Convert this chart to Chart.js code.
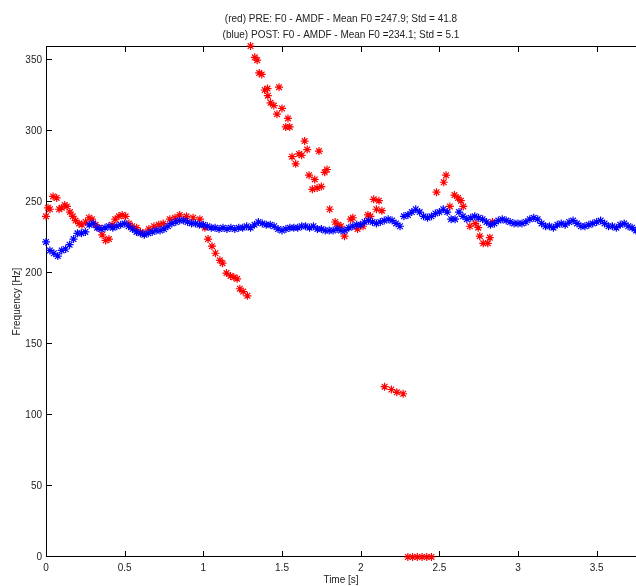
<!DOCTYPE html>
<html>
<head>
<meta charset="utf-8">
<script src="https://cdn.jsdelivr.net/npm/chart.js@4.4.1/dist/chart.umd.min.js"></script>
<style>
  html, body { margin: 0; padding: 0; background: #fff; }
</style>
</head>
<body>
<canvas id="f0chart" width="636" height="586"></canvas>
<script>
// title lines
const titleLines = [
  "(red) PRE: F0 - AMDF - Mean F0 =247.9; Std = 41.8",
  "(blue) POST: F0 - AMDF - Mean F0 =234.1; Std = 5.1"
]

// blue (POST) - one value every 25 ms from 0 s
const blueStep = 0.025
const blueF0 = [
  222, 216, 214, 212, 216, 217, 220, 224, 228, 228,
  229, 234, 235, 232, 231, 232, 233, 232, 233, 234,
  235, 233, 231, 229, 228, 227, 228, 229, 230, 230,
  231, 233, 235, 236, 237, 237, 236, 235, 235, 234,
  234, 233, 232, 232, 231, 232, 231, 232, 231, 232,
  232, 233, 232, 234, 236, 235, 234, 234, 233, 231,
  230, 231, 232, 232, 232, 233, 233, 232, 233, 231,
  231, 230, 230, 230, 231, 230, 230, 232, 233, 234,
  234, 236, 237, 236, 235, 236, 237, 238, 237, 235,
  233, 240, 241, 243, 245, 243, 240, 239, 240, 242,
  243, 245, 243, 238, 238, 243, 240, 238, 239, 240,
  239, 238, 236, 234, 235, 237, 238, 237, 236, 235,
  235, 235, 236, 238, 239, 238, 235, 233, 233, 232,
  234, 235, 234, 236, 237, 235, 233, 233, 234, 235,
  236, 237, 235, 233, 233, 232, 234, 235, 233, 232,
  230
]

// red (PRE) - irregular frames
const redTime = [
  0.00, 0.013, 0.025, 0.045, 0.068, 0.083, 0.10, 0.119, 0.133, 0.152,
  0.17, 0.188, 0.21, 0.228, 0.252, 0.273, 0.292, 0.315, 0.336, 0.357,
  0.379, 0.40, 0.42, 0.44, 0.463, 0.484, 0.506, 0.527, 0.548, 0.576,
  0.60, 0.622, 0.654, 0.686, 0.717, 0.745, 0.787, 0.82, 0.85, 0.893,
  0.935, 0.978, 1.01, 1.03, 1.055, 1.077, 1.105, 1.122, 1.147, 1.173,
  1.194, 1.215, 1.232, 1.253, 1.28, 1.30, 1.327, 1.342, 1.355, 1.371,
  1.39, 1.408, 1.41, 1.427, 1.448, 1.468, 1.481, 1.50, 1.524, 1.538,
  1.549, 1.564, 1.587, 1.608, 1.625, 1.644, 1.66, 1.672, 1.693, 1.708,
  1.723, 1.735, 1.75, 1.771, 1.786, 1.803, 1.838, 1.856, 1.875, 1.897,
  1.937, 1.95, 1.98, 2.015, 2.046, 2.062, 2.083, 2.10, 2.116, 2.135,
  2.152, 2.195, 2.23, 2.27, 2.30, 2.33, 2.36, 2.39, 2.42, 2.45,
  2.482, 2.528, 2.543, 2.567, 2.596, 2.619, 2.637, 2.652, 2.694, 2.728,
  2.747, 2.757, 2.779, 2.808, 2.821, 2.838
]
const redF0 = [
  240, 246, 245, 254, 253, 245, 246, 248, 247, 243,
  240, 237, 235, 234, 236, 239, 238, 234, 232, 227,
  223, 224, 234, 238, 240, 241, 240, 235, 233, 232,
  229, 228, 231, 233, 234, 235, 238, 239, 241, 240,
  239, 238, 232, 224, 219, 214, 209, 207, 200, 198,
  197, 196, 189, 187, 184, 360, 352, 350, 341, 340,
  329, 330, 325, 320, 318, 312, 331, 316, 303, 309,
  303, 282, 277, 284, 283, 293, 287, 269, 259, 266,
  260, 286, 261, 271, 273, 245, 236, 234, 233, 226,
  238, 239, 231, 233, 241, 240, 252, 245, 251, 244,
  120, 118, 116, 115, 0, 0, 0, 0, 0, 0,
  257, 264, 269, 247, 255, 253, 251, 247, 233, 235,
  232, 226, 221, 221, 225, 236
]

const xTicks = [0, 0.5, 1, 1.5, 2, 2.5, 3, 3.5]
const yTicks = [0, 50, 100, 150, 200, 250, 300, 350]
const xMax = 3.75
const yMax = 360

const blueData = blueF0.map((v, i) => ({ x: i * blueStep, y: v }))
const redData = redTime.map((t, i) => ({ x: t, y: redF0[i] }))

const fontFamily = "'Liberation Sans', Arial, sans-serif"

// matlab-like box with inward ticks
const matlabAxes = {
  id: "matlabAxes",
  beforeDatasetsDraw(chart) {
    const { ctx, chartArea: a, scales } = chart
    ctx.save()
    ctx.strokeStyle = "#000"
    ctx.lineWidth = 1
    ctx.beginPath()
    ctx.moveTo(a.left + 0.5, a.top)
    ctx.lineTo(a.left + 0.5, a.bottom)
    ctx.moveTo(a.left, a.top + 0.5)
    ctx.lineTo(a.right, a.top + 0.5)
    ctx.moveTo(a.left, a.bottom - 0.5)
    ctx.lineTo(a.right, a.bottom - 0.5)
    scales.x.ticks.forEach((t) => {
      const px = Math.round(scales.x.getPixelForValue(t.value)) + 0.5
      ctx.moveTo(px, a.bottom)
      ctx.lineTo(px, a.bottom - 6)
      ctx.moveTo(px, a.top)
      ctx.lineTo(px, a.top + 6)
    })
    scales.y.ticks.forEach((t) => {
      const py = Math.round(scales.y.getPixelForValue(t.value)) - 0.5
      ctx.moveTo(a.left, py)
      ctx.lineTo(a.left + 6, py)
    })
    ctx.stroke()
    ctx.restore()
  },
}

new Chart(document.getElementById("f0chart"), {
  type: "scatter",
  data: {
    datasets: [
      {
        label: "POST",
        data: blueData,
        pointStyle: "star",
        pointRadius: 4,
        borderWidth: 1.2,
        borderColor: "#0000ff",
        backgroundColor: "#0000ff",
        clip: false,
      },
      {
        label: "PRE",
        data: redData,
        pointStyle: "star",
        pointRadius: 4,
        borderWidth: 1.2,
        borderColor: "#ff0000",
        backgroundColor: "#ff0000",
        clip: false,
      },
    ],
  },
  options: {
    responsive: false,
    animation: false,
    layout: { padding: 0, autoPadding: false },
    plugins: {
      legend: { display: false },
      tooltip: { enabled: false },
      title: {
        display: true,
        text: titleLines,
        fullSize: false,
        color: "#222",
        font: { family: fontFamily, size: 10, weight: "normal", lineHeight: 1.6 },
        padding: { top: 11, bottom: 3 },
      },
    },
    scales: {
      x: {
        type: "linear",
        min: 0,
        max: xMax,
        afterBuildTicks: (s) => { s.ticks = xTicks.map((v) => ({ value: v })) },
        afterFit: (s) => { s.height = 29 },
        grid: { display: false, drawTicks: false },
        border: { display: false },
        ticks: {
          color: "#222",
          font: { family: fontFamily, size: 10 },
          padding: 5,
          maxRotation: 0,
          callback: (v) => String(v),
        },
        title: {
          display: true,
          text: "Time [s]",
          color: "#222",
          font: { family: fontFamily, size: 10, lineHeight: 1.2 },
          padding: { top: 0, bottom: 0 },
        },
      },
      y: {
        min: 0,
        max: yMax,
        afterBuildTicks: (s) => { s.ticks = yTicks.map((v) => ({ value: v })) },
        afterFit: (s) => { s.width = 46 },
        grid: { display: false, drawTicks: false },
        border: { display: false },
        ticks: {
          color: "#222",
          font: { family: fontFamily, size: 10 },
          padding: 4,
          callback: (v) => String(v),
        },
        title: {
          display: true,
          text: "Frequency [Hz]",
          color: "#222",
          font: { family: fontFamily, size: 10, lineHeight: 1.2 },
          padding: { top: 11, bottom: 0 },
        },
      },
    },
  },
  plugins: [matlabAxes],
})
</script>
</body>
</html>
